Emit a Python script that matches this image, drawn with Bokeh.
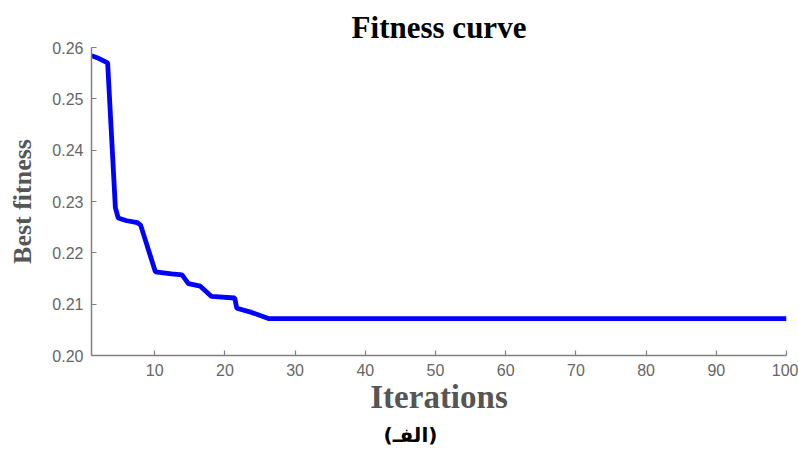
from bokeh.plotting import figure
from bokeh.models import Range1d, FixedTicker, Title, NumeralTickFormatter
from bokeh.embed import file_html
from bokeh.resources import INLINE

iterations = [1, 2, 3.3, 4.4, 4.8, 5.9, 7.5, 8.0, 10.1, 12.4, 13.9, 14.8,
              16.5, 18.1, 21.4, 21.7, 23.8, 26.2, 100]
best_fitness = [0.2584, 0.2579, 0.2570, 0.2288, 0.2268, 0.2263, 0.2259, 0.2254,
                0.2163, 0.2159, 0.2157, 0.2140, 0.2135, 0.2115, 0.2112, 0.2092,
                0.2084, 0.2072, 0.2072]

x_ticks = [10, 20, 30, 40, 50, 60, 70, 80, 90, 100]
y_ticks = [0.20, 0.21, 0.22, 0.23, 0.24, 0.25, 0.26]

title_text = "Fitness curve"
x_label = "Iterations"
y_label = "Best fitness"
caption = "(الفـ)"

p = figure(width=798, height=449, output_backend="svg", toolbar_location=None,
           x_range=Range1d(1, 100), y_range=Range1d(0.20, 0.26),
           min_border_left=91, min_border_right=12, min_border_top=47,
           min_border_bottom=93)
p.outline_line_color = None
p.xgrid.visible = False
p.ygrid.visible = False
p.background_fill_color = "white"
p.border_fill_color = "white"

p.line(iterations, best_fitness, line_color="#0000FF", line_width=4.8)

p.title.text = title_text
p.title.align = "center"
p.title.text_font = "Liberation Serif"
p.title.text_font_style = "bold"
p.title.text_font_size = "31px"
p.title.text_color = "#000000"
p.title.standoff = 6

for ax in (p.xaxis[0], p.yaxis[0]):
    ax.axis_line_color = "#808080"
    ax.axis_line_width = 1.5
    ax.major_tick_line_color = "#808080"
    ax.major_tick_line_width = 1.2
    ax.major_tick_in = 5
    ax.major_tick_out = 0
    ax.minor_tick_line_color = None
    ax.major_label_text_font = "Liberation Sans"
    ax.major_label_text_font_size = "16px"
    ax.major_label_text_color = "#666666"
    ax.axis_label_text_font = "Liberation Serif"
    ax.axis_label_text_font_style = "bold"
    ax.axis_label_text_color = "#555555"

p.xaxis.ticker = FixedTicker(ticks=x_ticks)
p.yaxis.ticker = FixedTicker(ticks=y_ticks)
p.yaxis.formatter = NumeralTickFormatter(format="0.00")
p.xaxis.major_label_standoff = 8
p.yaxis.major_label_standoff = 8
p.xaxis.axis_label = x_label
p.yaxis.axis_label = y_label
p.xaxis.axis_label_text_font_size = "33px"
p.yaxis.axis_label_text_font_size = "26px"
p.xaxis.axis_label_standoff = 0
p.yaxis.axis_label_standoff = 12

cap = Title(text=caption, align="left", offset=292, text_font="DejaVu Sans",
            text_font_style="bold", text_font_size="20px", text_color="#000000",
            standoff=6)
p.add_layout(cap, "below")

open("out.html", "w").write(file_html(p, INLINE))
